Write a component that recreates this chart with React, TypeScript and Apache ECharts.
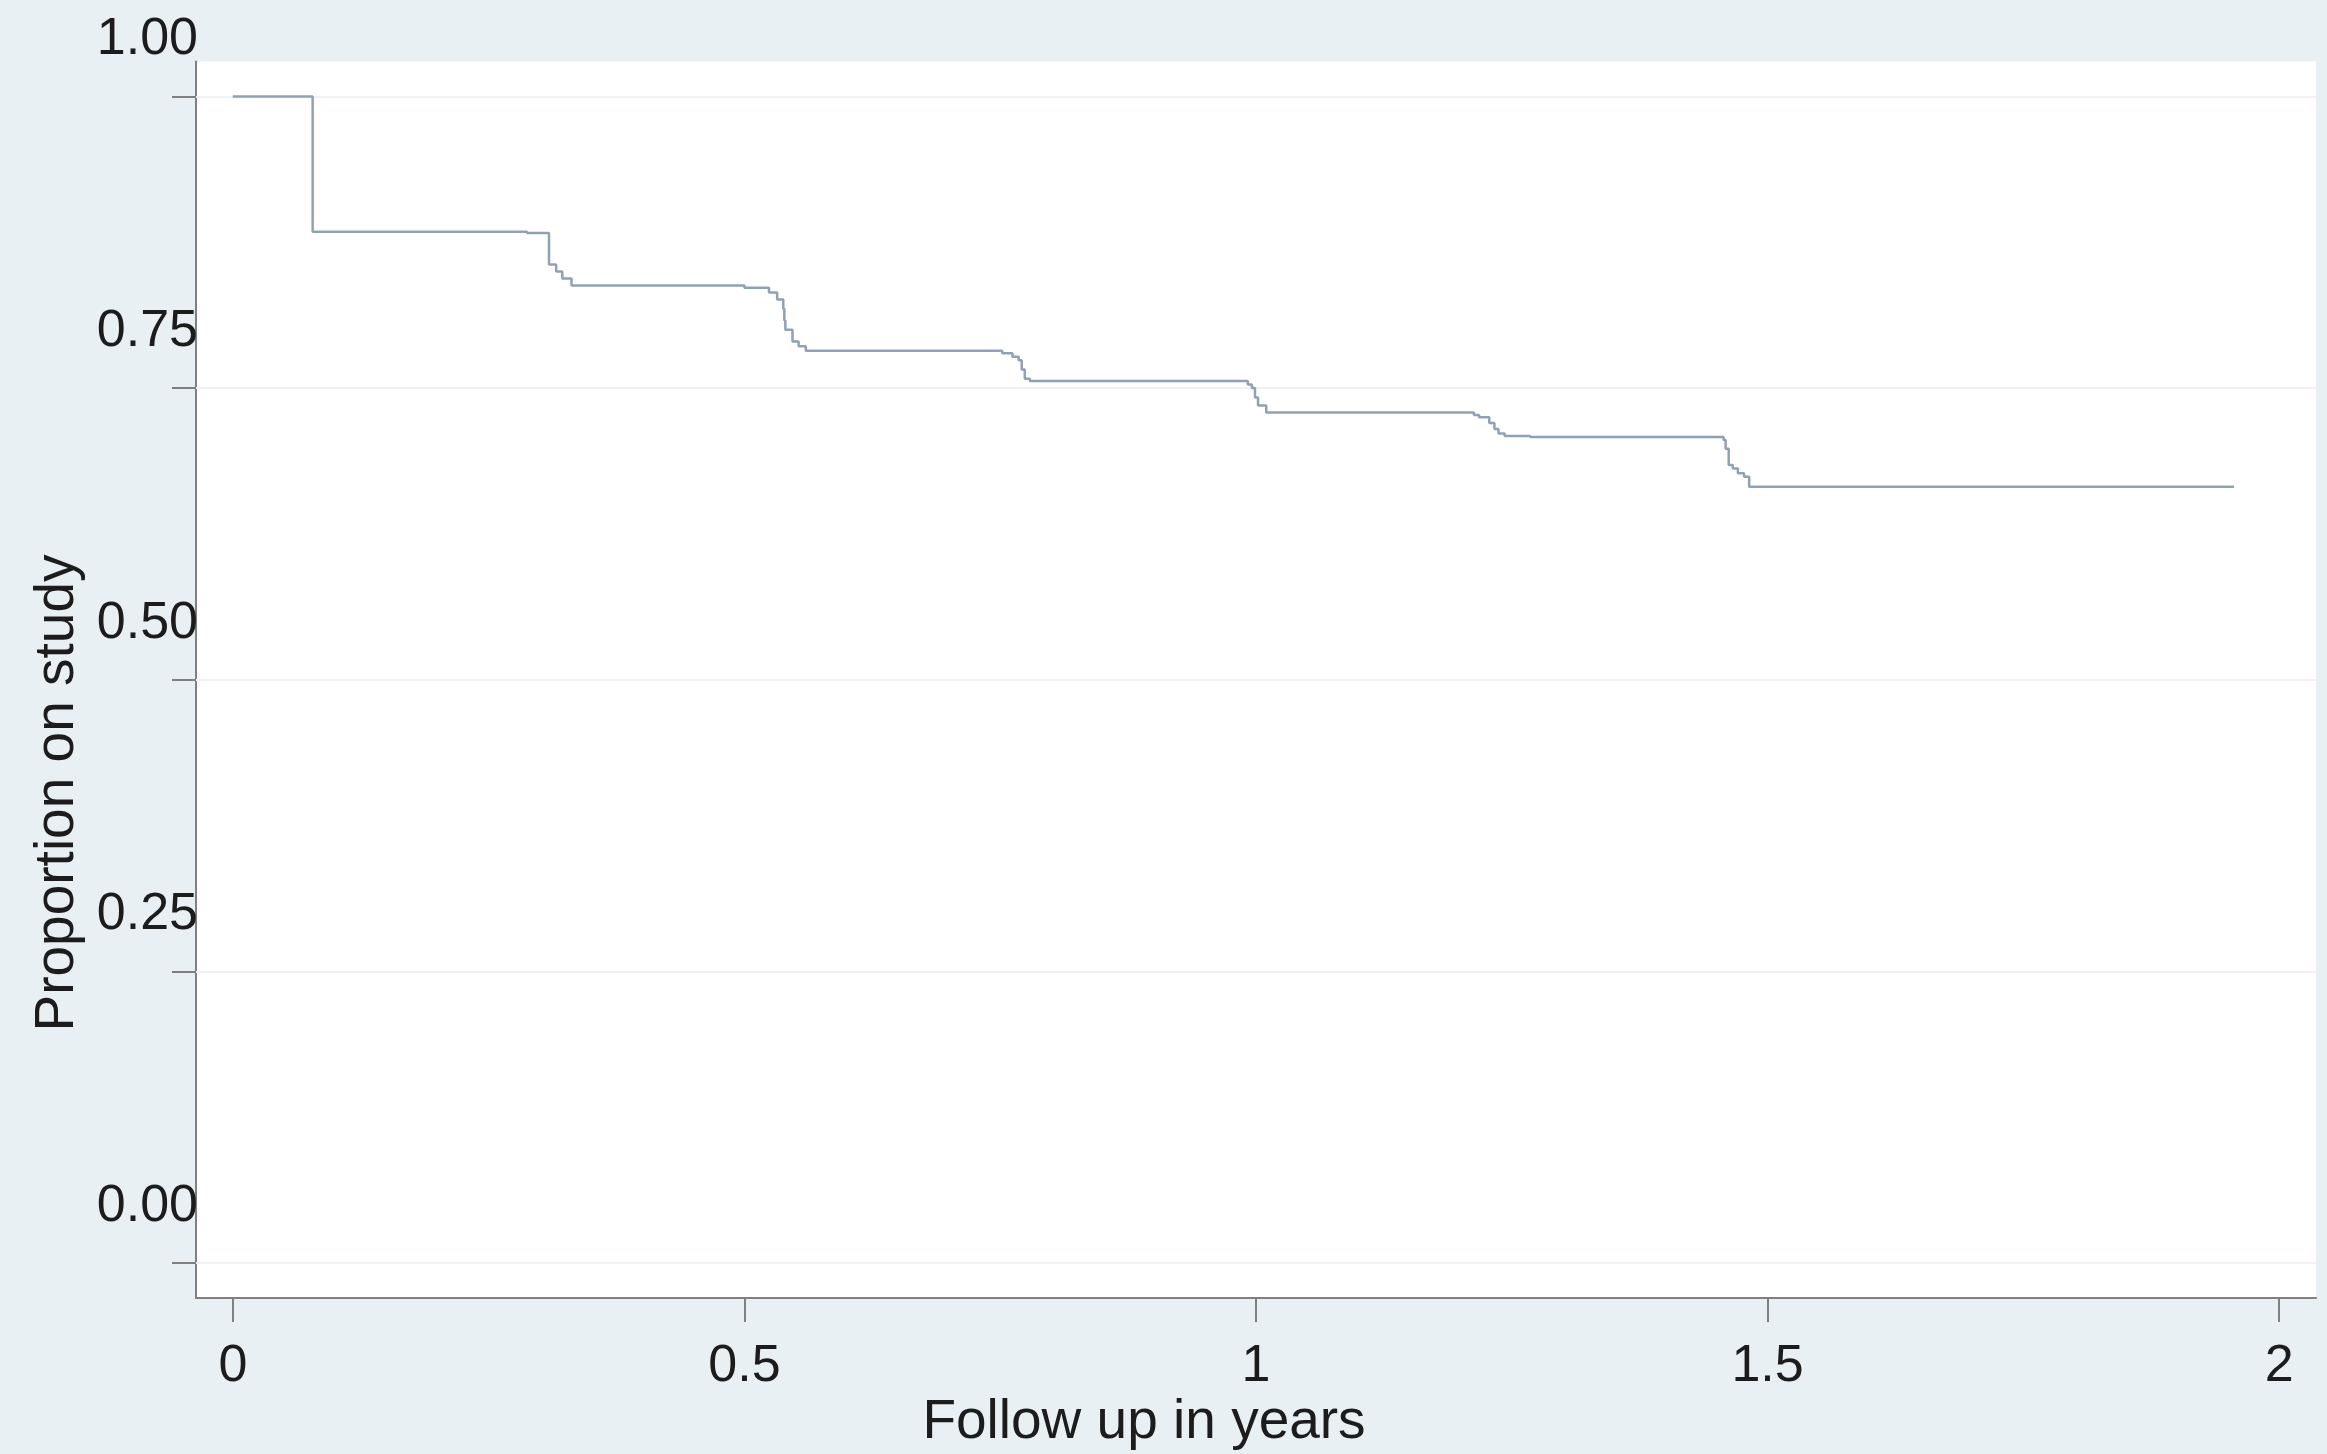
import React, { useEffect, useRef } from "react";
import * as echarts from "echarts";

// Kaplan-Meier estimate: event times (years) and proportion on study after each event
const times = [
  0, 0.078, 0.2875, 0.309, 0.316, 0.322, 0.331, 0.5, 0.524, 0.532, 0.538, 0.539, 0.54,
  0.547, 0.553, 0.56, 0.752, 0.762, 0.768, 0.771, 0.774, 0.779, 0.992, 0.996, 0.999,
  1.002, 1.01, 1.213, 1.218, 1.228, 1.233, 1.237, 1.243, 1.268, 1.457, 1.459, 1.462,
  1.466, 1.471, 1.477, 1.482, 1.956,
];
const survival = [
  1.0, 0.884, 0.883, 0.856, 0.85, 0.844, 0.838, 0.836, 0.832, 0.826, 0.818, 0.808, 0.8,
  0.79, 0.786, 0.782, 0.78, 0.777, 0.774, 0.766, 0.758, 0.756, 0.753, 0.75, 0.742,
  0.735, 0.729, 0.727, 0.725, 0.72, 0.715, 0.711, 0.709, 0.708, 0.7055, 0.698, 0.684,
  0.681, 0.677, 0.674, 0.6655, 0.6655,
];
const xTicks = [0, 0.5, 1, 1.5, 2];
const yTicks = [0, 0.25, 0.5, 0.75, 1];
const xTitle = "Follow up in years";
const yTitle = "Proportion on study";

export default function App() {
  const ref = useRef<HTMLDivElement>(null);
  useEffect(() => {
    const chart = echarts.init(ref.current!, null, { renderer: "svg" });
    const axisColor = "#808080";
    const textColor = "#1c1c1c";
    const font = "Liberation Sans";
    chart.setOption({
      animation: false,
      backgroundColor: "#e9f0f3",
      textStyle: { fontFamily: font },
      grid: {
        left: 196,
        right: 11,
        top: 61.5,
        bottom: 156,
        containLabel: false,
        outerBoundsMode: "none",
        show: true,
        backgroundColor: "#ffffff",
        borderWidth: 0,
      },
      xAxis: {
        type: "value",
        min: -0.036,
        max: 2.036,
        axisLine: { show: true, onZero: false, lineStyle: { color: axisColor, width: 2 } },
        axisTick: {
          show: true,
          inside: false,
          length: 24,
          customValues: xTicks,
          lineStyle: { color: axisColor, width: 2 },
        },
        axisLabel: {
          customValues: xTicks,
          margin: 39,
          fontSize: 52,
          color: textColor,
          fontFamily: font,
          formatter: (v: number) => String(v),
        },
        splitLine: { show: false },
      },
      yAxis: {
        type: "value",
        min: -0.03,
        max: 1.03,
        axisLine: { show: true, onZero: false, lineStyle: { color: axisColor, width: 2 } },
        axisTick: {
          show: true,
          inside: false,
          length: 24,
          customValues: yTicks,
          lineStyle: { color: axisColor, width: 2 },
        },
        axisLabel: {
          customValues: yTicks,
          margin: -2,
          fontSize: 52,
          color: textColor,
          fontFamily: font,
          verticalAlign: "bottom",
          lineHeight: 120,
          formatter: (v: number) => v.toFixed(2),
        },
        splitLine: { show: false },
      },
      series: [
        {
          type: "line",
          z: 1,
          data: [],
          silent: true,
          markLine: {
            silent: true,
            z: 1,
            symbol: "none",
            label: { show: false },
            lineStyle: { color: "#edf2f4", width: 2, type: "solid" },
            data: yTicks.map((v) => ({ yAxis: v })),
          },
        },
        {
          type: "line",
          z: 3,
          step: "end",
          showSymbol: false,
          symbol: "none",
          data: times.map((t, i) => [t, survival[i]]),
          lineStyle: { color: "#90a1b7", width: 2.5 },
        },
      ],
      graphic: [
        {
          type: "text",
          x: 1144,
          y: 1419,
          style: {
            text: xTitle,
            font: `55px "${font}"`,
            fill: textColor,
            textAlign: "center",
            textVerticalAlign: "middle",
          },
        },
        {
          type: "text",
          x: 54,
          y: 793,
          rotation: Math.PI / 2,
          style: {
            text: yTitle,
            font: `55px "${font}"`,
            fill: textColor,
            textAlign: "center",
            textVerticalAlign: "middle",
          },
        },
      ],
    });
    return () => chart.dispose();
  }, []);
  return (
    <div
      ref={ref}
      style={{ position: "fixed", left: 0, top: 0, width: "2327px", height: "1454px" }}
    />
  );
}
